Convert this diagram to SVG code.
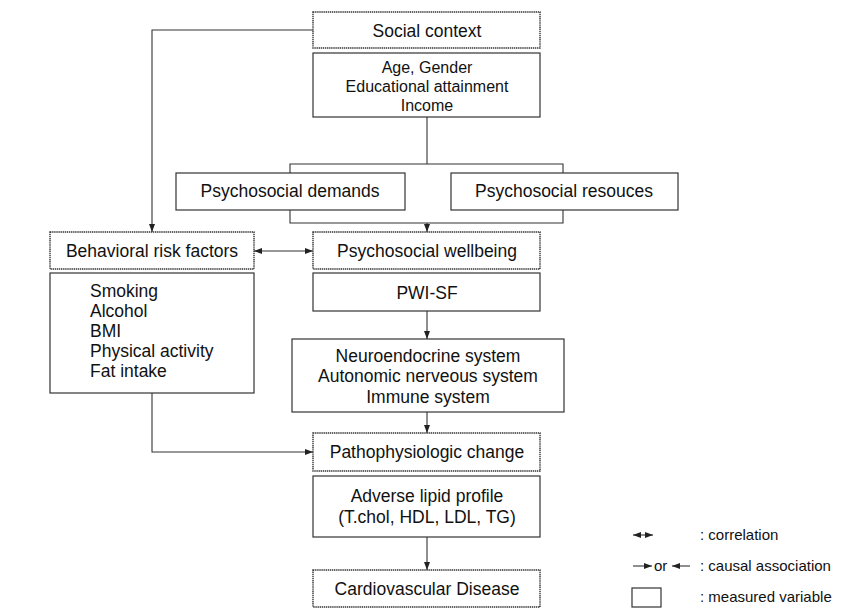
<svg xmlns="http://www.w3.org/2000/svg" width="845" height="608" viewBox="0 0 845 608">
<style>
text{font-family:"Liberation Sans",Arial,sans-serif;font-size:17.5px;fill:#111}
.c{text-anchor:middle}
.sm{font-size:16px}
.hdr{fill:#fff;stroke:#333;stroke-width:1.4;stroke-dasharray:1.4 0.7}
.box{fill:#fff;stroke:#333;stroke-width:1.2}
.ln{fill:none;stroke:#333;stroke-width:1.1}
.lg{font-size:15px}
</style>
<defs>
<marker id="ah" viewBox="0 0 8 6" refX="8" refY="3" markerWidth="8" markerHeight="6" markerUnits="userSpaceOnUse" orient="auto-start-reverse">
<path d="M0,0 L8,3 L0,6 Z" fill="#222"/>
</marker>
</defs>
<rect width="845" height="608" fill="#fff"/>
<g id="connectors">
<path class="ln" d="M313,30 H152 V232" marker-end="url(#ah)"/>
<path class="ln" d="M427,117 V164 M290,173 V164 H563 V173"/>
<path class="ln" d="M290,210 V223 H563 V210"/>
<path class="ln" d="M427,223 V232" marker-end="url(#ah)"/>
<path class="ln" d="M254,251 H313" marker-start="url(#ah)" marker-end="url(#ah)"/>
<path class="ln" d="M427,311 V339" marker-end="url(#ah)"/>
<path class="ln" d="M427,412 V433" marker-end="url(#ah)"/>
<path class="ln" d="M152,393 V452 H313" marker-end="url(#ah)"/>
<path class="ln" d="M427,537 V570" marker-end="url(#ah)"/>
</g>
<g id="social-context">
<rect class="hdr" x="313" y="12" width="227" height="36"/>
<text class="c" x="427" y="37">Social context</text>
</g>
<g id="social-measures">
<rect class="box" x="313" y="53" width="227" height="64"/>
<text class="c sm" x="427" y="73">Age, Gender</text>
<text class="c sm" x="427" y="92">Educational attainment</text>
<text class="c sm" x="427" y="111">Income</text>
</g>
<g id="psychosocial-demands">
<rect class="box" x="176" y="173" width="229" height="37"/>
<text class="c" x="290" y="197">Psychosocial demands</text>
</g>
<g id="psychosocial-resources">
<rect class="box" x="451" y="173" width="227" height="37"/>
<text class="c" x="564" y="197">Psychosocial resouces</text>
</g>
<g id="behavioral-risk-factors">
<rect class="hdr" x="50" y="232" width="204" height="37"/>
<text class="c" x="152" y="257">Behavioral risk factors</text>
</g>
<g id="behavioral-measures">
<rect class="box" x="50" y="273" width="204" height="120"/>
<text x="90" y="297">Smoking</text>
<text x="90" y="317">Alcohol</text>
<text x="90" y="337">BMI</text>
<text x="90" y="357">Physical activity</text>
<text x="90" y="377">Fat intake</text>
</g>
<g id="psychosocial-wellbeing">
<rect class="hdr" x="313" y="232" width="227" height="37"/>
<text class="c" x="427" y="257">Psychosocial wellbeing</text>
</g>
<g id="pwi-sf">
<rect class="box" x="313" y="273" width="227" height="38"/>
<text class="c" x="427" y="299">PWI-SF</text>
</g>
<g id="systems">
<rect class="box" x="292" y="339" width="272" height="73"/>
<text class="c" x="428" y="362">Neuroendocrine system</text>
<text class="c" x="428" y="382">Autonomic nerveous system</text>
<text class="c" x="428" y="403">Immune system</text>
</g>
<g id="pathophysiologic-change">
<rect class="hdr" x="313" y="433" width="227" height="38"/>
<text class="c" x="427" y="458">Pathophysiologic change</text>
</g>
<g id="lipid-profile">
<rect class="box" x="313" y="476" width="227" height="61"/>
<text class="c" x="427" y="502">Adverse lipid profile</text>
<text class="c" x="427" y="523">(T.chol, HDL, LDL, TG)</text>
</g>
<g id="cardiovascular-disease">
<rect class="hdr" x="313" y="570" width="227" height="37"/>
<text class="c" x="427" y="595">Cardiovascular Disease</text>
</g>
<g id="legend">
<path class="ln" d="M633,535 H653" marker-start="url(#ah)" marker-end="url(#ah)"/>
<text class="lg" x="700" y="540">: correlation</text>
<path class="ln" d="M633,566 H652" marker-end="url(#ah)"/>
<text class="lg" x="654" y="571">or</text>
<path class="ln" d="M690,566 H672" marker-end="url(#ah)"/>
<text class="lg" x="700" y="571">: causal association</text>
<rect class="box" x="632" y="588" width="29" height="19"/>
<text class="lg" x="700" y="602">: measured variable</text>
</g>
</svg>
